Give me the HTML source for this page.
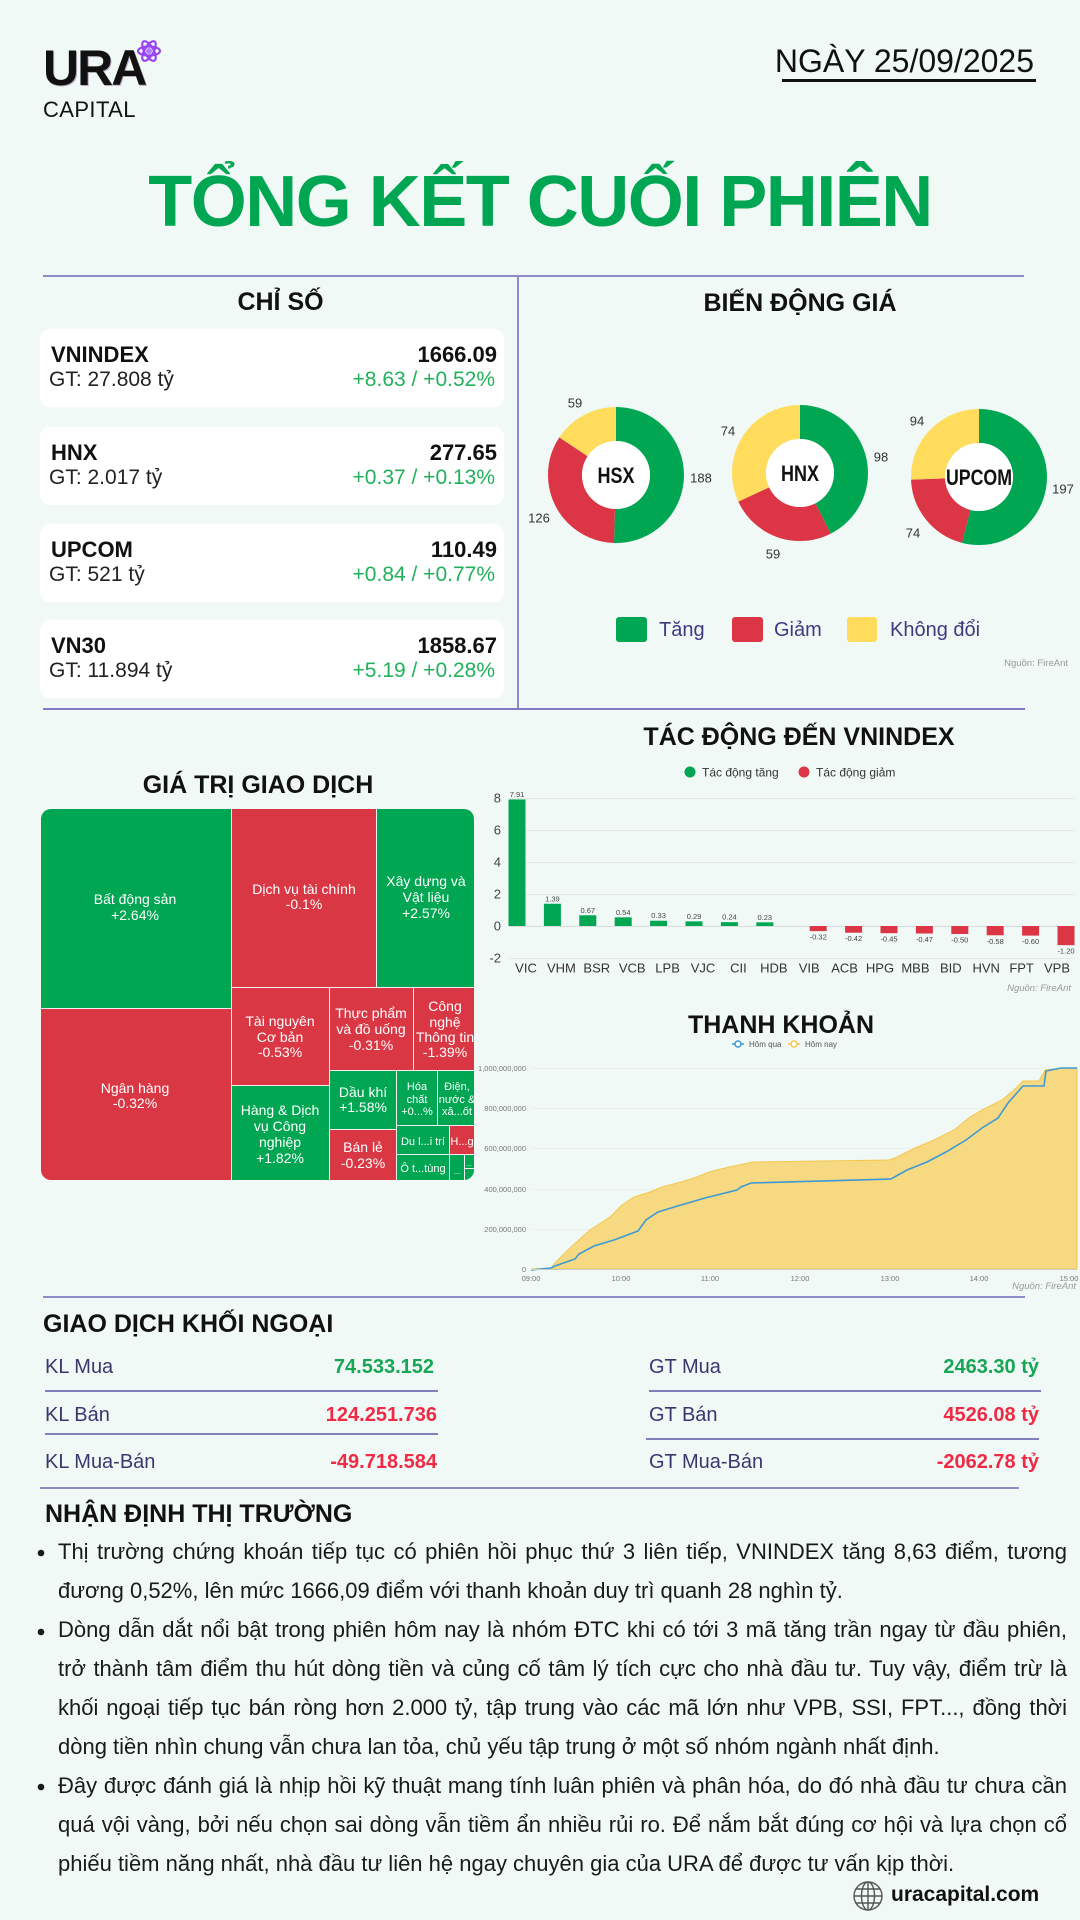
<!DOCTYPE html>
<html><head><meta charset="utf-8">
<style>
*{margin:0;padding:0;box-sizing:border-box}
html,body{width:1080px;height:1920px;overflow:hidden}
body{background:#f0f9f5;font-family:"Liberation Sans","Noto Sans CJK SC",sans-serif;position:relative;color:#111}
.a{position:absolute;white-space:nowrap;line-height:1}
.h{position:absolute;white-space:nowrap;line-height:1;font-size:25px;font-weight:bold;text-align:center;color:#111}
.card{position:absolute;left:40px;width:464px;height:78px;background:#fff;border-radius:10px}
.card .n{position:absolute;left:11px;top:15px;font-size:22px;font-weight:bold;line-height:1;white-space:nowrap}
.card .g{position:absolute;left:9px;top:40px;font-size:21px;line-height:1;white-space:nowrap;color:#222}
.card .v{position:absolute;right:7px;top:15px;font-size:22px;font-weight:bold;line-height:1;white-space:nowrap}
.card .c{position:absolute;right:9px;top:40px;font-size:21px;line-height:1;color:#22b05a;white-space:nowrap}
.fl{position:absolute;font-size:20px;line-height:1;color:#38386f;white-space:nowrap}
.fv{position:absolute;font-size:20px;line-height:1;font-weight:bold;white-space:nowrap;text-align:right}
.gr{color:#16a655}.rd{color:#ef2a45}
.ln{position:absolute;height:2px;background:#8c8cc4}
.para{position:absolute;left:58px;top:1531.6px;width:1009px}
.para div{height:39px;line-height:39px;font-size:22px;text-align:justify;text-align-last:justify;color:#1a1a1a;white-space:nowrap}
.para div.e{text-align-last:left;text-align:left}
</style></head><body>

<svg width="1080" height="1920" style="position:absolute;left:0;top:0" xmlns="http://www.w3.org/2000/svg" font-family="Liberation Sans, sans-serif">
<!-- atom icon -->
<g transform="translate(149,51)" fill="none" stroke="#9b45f0" stroke-width="2.2">
<ellipse rx="11" ry="4.5"/>
<ellipse rx="11" ry="4.5" transform="rotate(60)"/>
<ellipse rx="11" ry="4.5" transform="rotate(120)"/>
<circle r="3" fill="#b57cff" stroke="none"/>
</g>

<!-- dividers -->
<rect x="43" y="275" width="981" height="2" fill="#8c8cc8"/>
<rect x="517" y="276" width="2" height="433" fill="#8c8cc8"/>
<rect x="43" y="708" width="982" height="2" fill="#7c7cc2"/>
<rect x="43" y="1296" width="982" height="2" fill="#8c8cc8"/>
<rect x="40" y="1487" width="979" height="2" fill="#8c8cc8"/>

<!-- donuts -->
<g fill="none" stroke-width="34">
<circle cx="616" cy="475" r="51" stroke="#00a651" stroke-dasharray="161.51 400" transform="rotate(-90 616 475)"/>
<circle cx="616" cy="475" r="51" stroke="#dc3545" stroke-dasharray="108.25 400" stroke-dashoffset="-161.51" transform="rotate(-90 616 475)"/>
<circle cx="616" cy="475" r="51" stroke="#ffdc5c" stroke-dasharray="50.69 400" stroke-dashoffset="-269.76" transform="rotate(-90 616 475)"/>
<circle cx="800" cy="473" r="51" stroke="#00a651" stroke-dasharray="135.94 400" transform="rotate(-90 800 473)"/>
<circle cx="800" cy="473" r="51" stroke="#dc3545" stroke-dasharray="81.84 400" stroke-dashoffset="-135.94" transform="rotate(-90 800 473)"/>
<circle cx="800" cy="473" r="51" stroke="#ffdc5c" stroke-dasharray="102.66 400" stroke-dashoffset="-217.78" transform="rotate(-90 800 473)"/>
<circle cx="979" cy="477" r="51" stroke="#00a651" stroke-dasharray="172.95 400" transform="rotate(-90 979 477)"/>
<circle cx="979" cy="477" r="51" stroke="#dc3545" stroke-dasharray="64.97 400" stroke-dashoffset="-172.95" transform="rotate(-90 979 477)"/>
<circle cx="979" cy="477" r="51" stroke="#ffdc5c" stroke-dasharray="82.52 400" stroke-dashoffset="-237.92" transform="rotate(-90 979 477)"/>
</g>
<circle cx="616" cy="475" r="34" fill="#fff"/>
<circle cx="800" cy="473" r="34" fill="#fff"/>
<circle cx="979" cy="477" r="34" fill="#fff"/>
<g font-weight="bold" font-size="22" fill="#111" text-anchor="middle">
<text x="616" y="483" textLength="37" lengthAdjust="spacingAndGlyphs">HSX</text>
<text x="800" y="481" textLength="38" lengthAdjust="spacingAndGlyphs">HNX</text>
<text x="979" y="485" textLength="66" lengthAdjust="spacingAndGlyphs">UPCOM</text>
</g>
<g font-size="13" fill="#333" text-anchor="middle">
<text x="575" y="407.5">59</text>
<text x="701" y="482.5">188</text>
<text x="539" y="522.5">126</text>
<text x="728" y="435.5">74</text>
<text x="881" y="461.5">98</text>
<text x="773" y="558.5">59</text>
<text x="917" y="425.5">94</text>
<text x="1063" y="493.5">197</text>
<text x="913" y="537.5">74</text>
</g>
<rect x="616" y="617" width="31" height="25" rx="3" fill="#00a651"/>
<rect x="732" y="617" width="31" height="25" rx="3" fill="#dc3545"/>
<rect x="847" y="617" width="30" height="25" rx="3" fill="#ffdc5c"/>
<g font-size="20" fill="#3b3b80">
<text x="659" y="636">Tăng</text>
<text x="774" y="636">Giảm</text>
<text x="890" y="636">Không đổi</text>
</g>
<text x="1068" y="666" font-size="9.5" fill="#999" text-anchor="end">Nguồn: FireAnt</text>

<!-- treemap -->
<defs><clipPath id="tm"><rect x="41" y="809" width="433" height="371" rx="10"/></clipPath></defs>
<g clip-path="url(#tm)">
<rect x="41" y="809" width="433" height="371" fill="#f4eef0"/>
<rect x="41" y="809" width="190" height="199" fill="#00a651"/>
<rect x="41" y="1009" width="190" height="171" fill="#da3744"/>
<rect x="232" y="809" width="144" height="178" fill="#da3744"/>
<rect x="377" y="809" width="97" height="178" fill="#00a651"/>
<rect x="232" y="988" width="97" height="97" fill="#da3744"/>
<rect x="232" y="1086" width="97" height="94" fill="#00a651"/>
<rect x="330" y="988" width="83" height="82" fill="#da3744"/>
<rect x="414" y="988" width="60" height="82" fill="#da3744"/>
<rect x="330" y="1071" width="66" height="58" fill="#00a651"/>
<rect x="330" y="1130" width="66" height="50" fill="#da3744"/>
<rect x="397" y="1071" width="40" height="54" fill="#00a651"/>
<rect x="438" y="1071" width="36" height="54" fill="#00a651"/>
<rect x="397" y="1126" width="52" height="28" fill="#00a651"/>
<rect x="450" y="1126" width="24" height="28" fill="#da3744"/>
<rect x="397" y="1155" width="52" height="25" fill="#00a651"/>
<rect x="450" y="1155" width="14" height="25" fill="#00a651"/>
<rect x="465" y="1155" width="9" height="13" fill="#00a651"/>
<rect x="465" y="1169" width="9" height="11" fill="#00a651"/>
<g fill="#fff" font-size="14" text-anchor="middle">
<text x="135" y="904">Bất động sản</text><text x="135" y="920">+2.64%</text>
<text x="135" y="1093">Ngân hàng</text><text x="135" y="1108">-0.32%</text>
<text x="304" y="894">Dịch vụ tài chính</text><text x="304" y="909">-0.1%</text>
<text x="426" y="886">Xây dựng và</text><text x="426" y="902">Vật liệu</text><text x="426" y="918">+2.57%</text>
<text x="280" y="1026">Tài nguyên</text><text x="280" y="1042">Cơ bản</text><text x="280" y="1057">-0.53%</text>
<text x="371" y="1018">Thực phẩm</text><text x="371" y="1034">và đồ uống</text><text x="371" y="1050">-0.31%</text>
<text x="445" y="1011">Công</text><text x="445" y="1027">nghệ</text><text x="445" y="1042">Thông tin</text><text x="445" y="1057">-1.39%</text>
<text x="280" y="1115">Hàng &amp; Dịch</text><text x="280" y="1131">vụ Công</text><text x="280" y="1147">nghiệp</text><text x="280" y="1163">+1.82%</text>
<text x="363" y="1097">Dầu khí</text><text x="363" y="1112">+1.58%</text>
<text x="363" y="1152">Bán lẻ</text><text x="363" y="1168">-0.23%</text>
</g>
<g fill="#fff" font-size="11" text-anchor="middle">
<text x="417" y="1090">Hóa</text><text x="417" y="1103">chất</text><text x="417" y="1115">+0...%</text>
<text x="457" y="1090">Điện,</text><text x="457" y="1103">nước &amp;</text><text x="457" y="1115">xă...ốt</text>
<text x="423" y="1145">Du l...i trí</text>
<text x="462" y="1145">H...g</text>
<text x="423" y="1172">Ô t...tùng</text>
<text x="457" y="1174" font-size="8">...</text>
<text x="469" y="1166" font-size="7">...</text>
</g>
</g>

<!-- bar chart -->
<circle cx="690" cy="772" r="5.5" fill="#00a651"/>
<text x="702" y="776.5" font-size="12" fill="#333">Tác động tăng</text>
<circle cx="804" cy="772" r="5.5" fill="#dc3545"/>
<text x="816" y="776.5" font-size="12" fill="#333">Tác động giảm</text>
<g stroke="#e6e9e8" stroke-width="1">
<line x1="509" y1="798.5" x2="1075" y2="798.5"/>
<line x1="509" y1="830.5" x2="1075" y2="830.5"/>
<line x1="509" y1="862.5" x2="1075" y2="862.5"/>
<line x1="509" y1="894.5" x2="1075" y2="894.5"/>
<line x1="509" y1="926.5" x2="1075" y2="926.5" stroke="#d8dcdb"/>
<line x1="509" y1="958.5" x2="1075" y2="958.5"/>
</g>
<g font-size="13" fill="#444" text-anchor="end">
<text x="501" y="802.5">8</text><text x="501" y="834.5">6</text><text x="501" y="866.5">4</text>
<text x="501" y="898.5">2</text><text x="501" y="930.5">0</text><text x="501" y="962.5">-2</text>
</g>
<g fill="#00a651">
<rect x="508.5" y="799.44" width="17" height="126.56"/>
<rect x="543.9" y="903.76" width="17" height="22.24"/>
<rect x="579.3" y="915.28" width="17" height="10.72"/>
<rect x="614.7" y="917.36" width="17" height="8.64"/>
<rect x="650.1" y="920.72" width="17" height="5.28"/>
<rect x="685.5" y="921.36" width="17" height="4.64"/>
<rect x="720.9" y="922.16" width="17" height="3.84"/>
<rect x="756.3" y="922.32" width="17" height="3.68"/>
</g>
<g fill="#dc3545">
<rect x="809.7" y="926" width="17" height="5.12"/>
<rect x="845.1" y="926" width="17" height="6.72"/>
<rect x="880.5" y="926" width="17" height="7.2"/>
<rect x="915.9" y="926" width="17" height="7.52"/>
<rect x="951.3" y="926" width="17" height="8"/>
<rect x="986.7" y="926" width="17" height="9.28"/>
<rect x="1022.1" y="926" width="17" height="9.6"/>
<rect x="1057.5" y="926" width="17" height="19.2"/>
</g>
<g font-size="7.5" fill="#444" text-anchor="middle">
<text x="517" y="797">7.91</text><text x="552.4" y="901.3">1.39</text><text x="587.8" y="912.8">0.67</text>
<text x="623.2" y="914.9">0.54</text><text x="658.6" y="918.2">0.33</text><text x="694" y="918.9">0.29</text>
<text x="729.4" y="919.7">0.24</text><text x="764.8" y="919.8">0.23</text>
<text x="818.2" y="939.6">-0.32</text><text x="853.6" y="941.2">-0.42</text><text x="889" y="941.7">-0.45</text>
<text x="924.4" y="942">-0.47</text><text x="959.8" y="942.5">-0.50</text><text x="995.2" y="943.8">-0.58</text>
<text x="1030.6" y="944.1">-0.60</text><text x="1066" y="953.7">-1.20</text>
</g>
<g font-size="13" fill="#333" text-anchor="middle">
<text x="526" y="972.5">VIC</text><text x="561.4" y="972.5">VHM</text><text x="596.8" y="972.5">BSR</text>
<text x="632.2" y="972.5">VCB</text><text x="667.6" y="972.5">LPB</text><text x="703" y="972.5">VJC</text>
<text x="738.4" y="972.5">CII</text><text x="773.8" y="972.5">HDB</text><text x="809.2" y="972.5">VIB</text>
<text x="844.6" y="972.5">ACB</text><text x="880" y="972.5">HPG</text><text x="915.4" y="972.5">MBB</text>
<text x="950.8" y="972.5">BID</text><text x="986.2" y="972.5">HVN</text><text x="1021.6" y="972.5">FPT</text>
<text x="1057" y="972.5">VPB</text>
</g>
<text x="1071" y="991" font-size="9.5" font-style="italic" fill="#999" text-anchor="end">Nguồn: FireAnt</text>

<!-- liquidity chart -->
<line x1="732" y1="1044" x2="744" y2="1044" stroke="#3d9ad6" stroke-width="1.5"/>
<circle cx="738" cy="1044" r="3" fill="#fff" stroke="#3d9ad6" stroke-width="1.5"/>
<text x="749" y="1047" font-size="8" fill="#555">Hôm qua</text>
<line x1="788" y1="1044" x2="800" y2="1044" stroke="#f2c94c" stroke-width="1.5"/>
<circle cx="794" cy="1044" r="3" fill="#fff" stroke="#f2c94c" stroke-width="1.5"/>
<text x="805" y="1047" font-size="8" fill="#555">Hôm nay</text>
<g stroke="#eceeed" stroke-width="1">
<line x1="531" y1="1068.5" x2="1077" y2="1068.5"/>
<line x1="531" y1="1108.5" x2="1077" y2="1108.5"/>
<line x1="531" y1="1148.5" x2="1077" y2="1148.5"/>
<line x1="531" y1="1189.5" x2="1077" y2="1189.5"/>
<line x1="531" y1="1229.5" x2="1077" y2="1229.5"/>
</g>
<polygon fill="#f7d982" stroke="#f2c84e" stroke-width="1" points="531,1269 551,1268 555,1263 571,1247 590,1230 610,1217 622,1205 634,1197 650,1192 662,1187 681,1182 697,1177 709,1172 729,1167 753,1162 889,1160 895,1158 915,1148 934,1140 954,1130 970,1117 982,1110 1002,1100 1014,1090 1023,1081 1039,1081 1045,1070 1065,1068 1077,1068 1077,1269"/>
<polyline fill="none" stroke="#3d9ad6" stroke-width="1.6" points="531,1270 551,1268 555,1266 575,1259 579,1254 594,1246 614,1240 638,1231 646,1220 658,1212 681,1205 705,1198 737,1190 741,1187 751,1183 891,1179 907,1170 927,1162 946,1152 966,1140 982,1128 998,1118 1008,1103 1023,1086 1044,1086 1046,1071 1061,1068 1077,1068"/>
<line x1="531" y1="1269.5" x2="1077" y2="1269.5" stroke="#c8cccb" stroke-width="1"/>
<g font-size="7.5" fill="#777" text-anchor="end">
<text x="526" y="1071">1,000,000,000</text><text x="526" y="1111">800,000,000</text>
<text x="526" y="1151">600,000,000</text><text x="526" y="1192">400,000,000</text>
<text x="526" y="1232">200,000,000</text><text x="526" y="1272">0</text>
</g>
<g font-size="7.5" fill="#777" text-anchor="middle">
<text x="531" y="1281">09:00</text><text x="621" y="1281">10:00</text><text x="710" y="1281">11:00</text>
<text x="800" y="1281">12:00</text><text x="890" y="1281">13:00</text><text x="979" y="1281">14:00</text>
<text x="1069" y="1281">15:00</text>
</g>
<text x="1076" y="1289" font-size="9.5" font-style="italic" fill="#999" text-anchor="end">Nguồn: FireAnt</text>

<!-- foreign lines -->
<rect x="45" y="1390" width="393" height="2" fill="#8080bb"/>
<rect x="45" y="1433" width="393" height="2" fill="#8080bb"/>
<rect x="649" y="1390" width="392" height="2" fill="#8080bb"/>
<rect x="646" y="1438" width="393" height="2" fill="#8080bb"/>

<!-- bullets -->
<circle cx="41" cy="1553" r="3.3" fill="#1a1a1a"/>
<circle cx="41" cy="1632" r="3.3" fill="#1a1a1a"/>
<circle cx="41" cy="1787" r="3.3" fill="#1a1a1a"/>

<!-- globe -->
<g transform="translate(868,1896)" fill="none" stroke="#555" stroke-width="1.4">
<circle r="14"/>
<ellipse rx="6.5" ry="14"/>
<line x1="0" y1="-14" x2="0" y2="14"/>
<line x1="-14" y1="0" x2="14" y2="0"/>
<line x1="-12" y1="-7" x2="12" y2="-7"/>
<line x1="-12" y1="7" x2="12" y2="7"/>
</g>
</svg>

<!-- header -->
<div class="a" style="left:43px;top:42.7px;font-size:50px;font-weight:bold;letter-spacing:-2px;text-shadow:1px 1px 0 #b8a8c0">URA</div>
<div class="a" style="left:43px;top:99.4px;font-size:22px;letter-spacing:0.4px">CAPITAL</div>
<div class="a" style="right:46px;top:44.9px;font-size:32px;color:#111">NGÀY 25/09/2025</div>
<div class="a" style="left:782px;top:79px;width:254px;height:3px;background:#111"></div>
<div class="a" style="left:0;width:1080px;text-align:center;top:166px;font-size:72px;font-weight:bold;letter-spacing:-1.5px;color:#00a651">TỔNG KẾT CUỐI PHIÊN</div>

<!-- section headings -->
<div class="h" style="left:43px;width:475px;top:289.8px">CHỈ SỐ</div>
<div class="h" style="left:600px;width:400px;top:290.8px">BIẾN ĐỘNG GIÁ</div>
<div class="h" style="left:58px;width:400px;top:772.8px">GIÁ TRỊ GIAO DỊCH</div>
<div class="h" style="left:599px;width:400px;top:724.8px">TÁC ĐỘNG ĐẾN VNINDEX</div>
<div class="h" style="left:581px;width:400px;top:1012.8px">THANH KHOẢN</div>

<!-- cards -->
<div class="card" style="top:329px"><div class="n">VNINDEX</div><div class="g">GT: 27.808 tỷ</div><div class="v">1666.09</div><div class="c">+8.63 / +0.52%</div></div>
<div class="card" style="top:427px"><div class="n">HNX</div><div class="g">GT: 2.017 tỷ</div><div class="v">277.65</div><div class="c">+0.37 / +0.13%</div></div>
<div class="card" style="top:524px"><div class="n">UPCOM</div><div class="g">GT: 521 tỷ</div><div class="v">110.49</div><div class="c">+0.84 / +0.77%</div></div>
<div class="card" style="top:620px"><div class="n">VN30</div><div class="g">GT: 11.894 tỷ</div><div class="v">1858.67</div><div class="c">+5.19 / +0.28%</div></div>

<!-- foreign -->
<div class="a" style="left:43px;top:1311.8px;font-size:25px;font-weight:bold">GIAO DỊCH KHỐI NGOẠI</div>
<div class="fl" style="left:45px;top:1357px">KL Mua</div>
<div class="fl" style="left:45px;top:1405px">KL Bán</div>
<div class="fl" style="left:45px;top:1452px">KL Mua-Bán</div>
<div class="fv gr" style="right:646px;top:1357px">74.533.152</div>
<div class="fv rd" style="right:643px;top:1405px">124.251.736</div>
<div class="fv rd" style="right:643px;top:1452px">-49.718.584</div>
<div class="fl" style="left:649px;top:1357px">GT Mua</div>
<div class="fl" style="left:649px;top:1405px">GT Bán</div>
<div class="fl" style="left:649px;top:1452px">GT Mua-Bán</div>
<div class="fv gr" style="right:41px;top:1357px">2463.30 tỷ</div>
<div class="fv rd" style="right:41px;top:1405px">4526.08 tỷ</div>
<div class="fv rd" style="right:41px;top:1452px">-2062.78 tỷ</div>

<div class="a" style="left:45px;top:1501.8px;font-size:25px;font-weight:bold">NHẬN ĐỊNH THỊ TRƯỜNG</div>

<div class="para">
<div>Thị trường chứng khoán tiếp tục có phiên hồi phục thứ 3 liên tiếp, VNINDEX tăng 8,63 điểm, tương</div>
<div class="e">đương 0,52%, lên mức 1666,09 điểm với thanh khoản duy trì quanh 28 nghìn tỷ.</div>
<div>Dòng dẫn dắt nổi bật trong phiên hôm nay là nhóm ĐTC khi có tới 3 mã tăng trần ngay từ đầu phiên,</div>
<div>trở thành tâm điểm thu hút dòng tiền và củng cố tâm lý tích cực cho nhà đầu tư. Tuy vậy, điểm trừ là</div>
<div>khối ngoại tiếp tục bán ròng hơn 2.000 tỷ, tập trung vào các mã lớn như VPB, SSI, FPT..., đồng thời</div>
<div class="e">dòng tiền nhìn chung vẫn chưa lan tỏa, chủ yếu tập trung ở một số nhóm ngành nhất định.</div>
<div>Đây được đánh giá là nhịp hồi kỹ thuật mang tính luân phiên và phân hóa, do đó nhà đầu tư chưa cần</div>
<div>quá vội vàng, bởi nếu chọn sai dòng vẫn tiềm ẩn nhiều rủi ro. Để nắm bắt đúng cơ hội và lựa chọn cổ</div>
<div class="e">phiếu tiềm năng nhất, nhà đầu tư liên hệ ngay chuyên gia của URA để được tư vấn kịp thời.</div>
</div>

<div class="a" style="left:891px;top:1884.2px;font-size:21px;font-weight:bold;color:#111">uracapital.com</div>
</body></html>
